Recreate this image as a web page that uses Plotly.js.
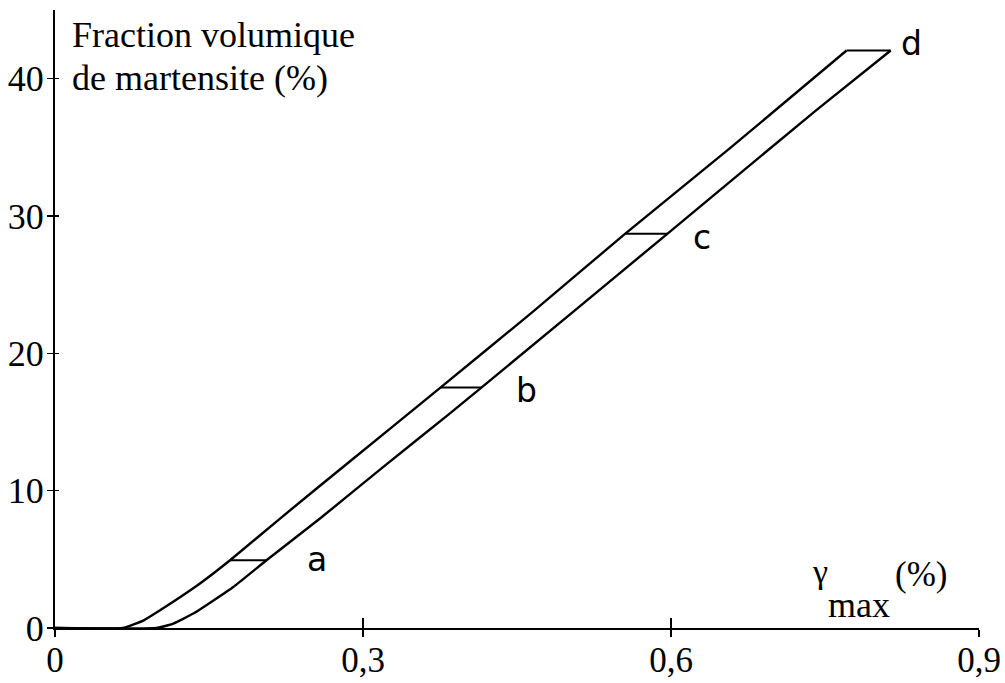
<!DOCTYPE html>
<html>
<head>
<meta charset="utf-8">
<script src="https://cdn.plot.ly/plotly-3.0.1.min.js"></script>
<style>html,body{margin:0;padding:0;background:#fff;}#chart{width:1005px;height:683px;}</style>
</head>
<body>
<div id="chart"></div>
<script>
// Loading curve (upper) and lower curve
const upperX = [0, 0.066, 0.0864, 0.1023, 0.1412, 0.1705, 0.2192, 0.2883, 0.3757, 0.465, 0.5552, 0.6575, 0.771];
const upperY = [0, 0, 0.56, 1.29, 3.24, 4.93, 7.97, 12.2, 17.52, 23.0, 28.70, 34.94, 42.05];
const lowerX = [0, 0.099, 0.1152, 0.1347, 0.1737, 0.206, 0.2581, 0.3198, 0.3847, 0.4156, 0.5964, 0.7419, 0.814];
const lowerY = [0, 0, 0.32, 1.05, 2.99, 4.93, 7.97, 11.73, 15.63, 17.52, 28.70, 37.73, 42.05];
// Horizontal segments (points a, b, c, d)
const pointLabels = ['a', 'b', 'c', 'd'];
const segY  = [4.93, 17.52, 28.70, 42.05];
const segX0 = [0.1705, 0.3757, 0.5552, 0.771];
const segX1 = [0.206, 0.4156, 0.5964, 0.814];
const labelX = [0.2549, 0.4594, 0.6302, 0.8344];
const labelY = [4.98, 17.3, 28.45, 42.55];
// Axis ticks
const xTickVals = [0, 0.3, 0.6, 0.9];
const xTickText = ['0', '0,3', '0,6', '0,9'];
const yTickVals = [0, 10, 20, 30, 40];
const yTickText = ['0', '10', '20', '30', '40'];

const lineStyle = {color: '#000', width: 2.4, shape: 'spline', smoothing: 0.4};
const segXs = [], segYs = [];
for (let i = 0; i < segY.length; i++) {
  segXs.push(segX0[i], segX1[i], null);
  segYs.push(segY[i], segY[i], null);
}
const traces = [
  {x: upperX, y: upperY, mode: 'lines', line: lineStyle, hoverinfo: 'skip', showlegend: false},
  {x: lowerX, y: lowerY, mode: 'lines', line: lineStyle, hoverinfo: 'skip', showlegend: false},
  {x: segXs, y: segYs, mode: 'lines', line: {color: '#000', width: 2}, hoverinfo: 'skip', showlegend: false, connectgaps: false},
  {x: [], y: [], xaxis: 'x2', yaxis: 'y2', mode: 'lines', hoverinfo: 'skip', showlegend: false}
];

const serif = 'Liberation Serif, Times New Roman, serif';
const annotations = pointLabels.map((t, i) => ({
  x: labelX[i], y: labelY[i], xref: 'x', yref: 'y', text: t, showarrow: false,
  font: {family: 'DejaVu Sans, sans-serif', size: 33, color: '#000'}
}));
annotations.push(
  {xref: 'paper', yref: 'paper', x: 0.0162, y: 0.9595, xanchor: 'left', yanchor: 'middle', align: 'left',
   text: 'Fraction volumique', showarrow: false,
   font: {family: serif, size: 36, color: '#000'}},
  {xref: 'paper', yref: 'paper', x: 0.0162, y: 0.890, xanchor: 'left', yanchor: 'middle', align: 'left',
   text: 'de martensite (%)', showarrow: false,
   font: {family: serif, size: 36, color: '#000'}},
  {xref: 'x', yref: 'y', x: 0.7447, y: 4.13, text: 'γ', showarrow: false,
   font: {family: serif, size: 34, color: '#000'}},
  {xref: 'x', yref: 'y', x: 0.783, y: 1.65, text: 'max', showarrow: false,
   font: {family: serif, size: 36, color: '#000'}},
  {xref: 'x', yref: 'y', x: 0.8435, y: 3.9, text: '(%)', showarrow: false,
   font: {family: serif, size: 35, color: '#000'}}
);

const axBase = {showgrid: false, zeroline: false, showline: true, linecolor: '#000', linewidth: 2,
  tickcolor: '#000', tickwidth: 1.5, tickfont: {family: serif, size: 36, color: '#000'}, fixedrange: true};

const layout = {
  width: 1005, height: 683,
  margin: {l: 55, r: 26, t: 10, b: 55},
  paper_bgcolor: '#fff', plot_bgcolor: '#fff',
  showlegend: false,
  separators: ', ',
  xaxis: Object.assign({}, axBase, {range: [0, 0.9], tickmode: 'array', tickvals: xTickVals, ticktext: xTickText,
    ticks: 'outside', ticklen: 7, ticklabelstandoff: -7, tickfont: {family: serif, size: 35, color: '#000'}}),
  yaxis: Object.assign({}, axBase, {range: [0, 45], tickmode: 'array', tickvals: yTickVals, ticktext: yTickText,
    ticks: 'outside', ticklen: 6, ticklabelstandoff: -4}),
  xaxis2: Object.assign({}, axBase, {range: [0, 0.9], overlaying: 'x', anchor: 'y', tickmode: 'array', tickvals: xTickVals,
    ticks: 'inside', ticklen: 10, showticklabels: false}),
  yaxis2: Object.assign({}, axBase, {range: [0, 45], overlaying: 'y', anchor: 'x', tickmode: 'array', tickvals: yTickVals,
    ticks: 'inside', ticklen: 4, showticklabels: false}),
  annotations: annotations
};

Plotly.newPlot('chart', traces, layout, {displayModeBar: false, staticPlot: true});
</script>
</body>
</html>
